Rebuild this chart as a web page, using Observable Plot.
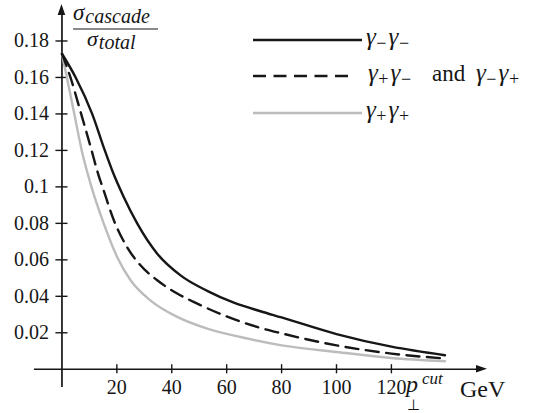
<!DOCTYPE html>
<html><head><meta charset="utf-8">
<script src="https://cdn.jsdelivr.net/npm/d3@7"></script>
<script src="https://cdn.jsdelivr.net/npm/@observablehq/plot@0.6"></script>
<style>
  html,body{margin:0;padding:0;background:#fff}
  #chart{width:535px;height:413px}
</style>
</head><body><div id="chart"></div>
<script>
// ---- data ----
// gamma- gamma- (solid black)
const mmX = [0, 5, 11, 15.6, 18.3, 22.5, 27.4, 34.7, 43.2, 52.9, 62.6, 72.3, 80, 100, 120, 139.5];
const mmY = [0.173, 0.16, 0.14, 0.12, 0.109, 0.0945, 0.08, 0.0634, 0.0515, 0.043, 0.0365, 0.0318, 0.0284, 0.0193, 0.0124, 0.0077];
// gamma+ gamma- and gamma- gamma+ (dashed black)
const pmX = [0, 3.1, 7, 10.8, 12.8, 15.2, 18.9, 23.7, 28.6, 34.7, 42, 49.3, 58.9, 71.1, 80, 100, 120, 139.5];
const pmY = [0.173, 0.16, 0.14, 0.12, 0.109, 0.098, 0.0817, 0.067, 0.057, 0.0488, 0.0415, 0.036, 0.0296, 0.0232, 0.0197, 0.0131, 0.0086, 0.0059];
// gamma+ gamma+ (solid grey)
const ppX = [0, 1.8, 4.5, 7.2, 10.4, 15.2, 20.1, 25, 32.2, 42, 52.9, 65, 80, 100, 120, 139.5];
const ppY = [0.173, 0.16, 0.14, 0.12, 0.1018, 0.08, 0.0616, 0.0488, 0.0378, 0.0287, 0.0223, 0.0177, 0.0131, 0.0095, 0.0062, 0.0044];

const xTicks = [20, 40, 60, 80, 100, 120];
const xTickLabels = ["20", "40", "60", "80", "100", "120"];
const yTicks = [0.02, 0.04, 0.06, 0.08, 0.1, 0.12, 0.14, 0.16, 0.18];
const yTickLabels = ["0.02", "0.04", "0.06", "0.08", "0.1", "0.12", "0.14", "0.16", "0.18"];
const xDomain = [-10, 155];
const yDomain = [-0.01, 0.2];

// ---- style ----
const SERIF = "'Liberation Serif', serif";
const INK = "#161616";
const GREY = "#bcbcbc";
const DASH = "13,7.5";
const LW = 2.4;

const chart = Plot.plot({
  width: 535, height: 413,
  marginLeft: 34, marginRight: 48, marginTop: 4, marginBottom: 26,
  x: {domain: xDomain, axis: null},
  y: {domain: yDomain, axis: null},
  style: {fontFamily: SERIF, color: INK, background: "#fff", overflow: "visible"},
  marks: [
    // axes
    Plot.ruleY([0], {x1: xDomain[0], x2: xDomain[1] - 3, stroke: INK, strokeWidth: 1.7}),
    Plot.ruleX([0], {y1: yDomain[0], y2: yDomain[1] - 0.004, stroke: INK, strokeWidth: 1.7}),
    // ticks
    Plot.ruleX(xTicks, {x: d => d, y1: -0.0025, y2: 0.0025, stroke: INK, strokeWidth: 1.4}),
    Plot.ruleY(yTicks, {y: d => d, x1: -2.2, x2: 2.2, stroke: INK, strokeWidth: 1.4}),
    Plot.text(xTicks, {x: d => d, y: 0, text: (d, i) => xTickLabels[i], dy: 18, fontSize: 20, fill: INK}),
    Plot.text(yTicks, {x: 0, y: d => d, text: (d, i) => yTickLabels[i], dx: -13, textAnchor: "end", fontSize: 20, fill: INK}),
    // curves
    Plot.line(ppX, {x: ppX, y: ppY, stroke: GREY, strokeWidth: LW, curve: "monotone-x"}),
    Plot.line(pmX, {x: pmX, y: pmY, stroke: INK, strokeWidth: LW, strokeDasharray: DASH, curve: "monotone-x"}),
    Plot.line(mmX, {x: mmX, y: mmY, stroke: INK, strokeWidth: LW, curve: "monotone-x"})
  ]
});
document.getElementById("chart").appendChild(chart);

const sx = chart.scale("x"), sy = chart.scale("y");
const svg = d3.select(chart);
const g = svg.append("g");

// arrow heads at the ends of the axes
const ax = sx.apply(xDomain[1]), ay = sy.apply(0);
g.append("path").attr("d", `M${ax},${ay}L${ax - 11},${ay - 3.8}L${ax - 11},${ay + 3.8}Z`).attr("fill", INK);
const bx = sx.apply(0), by = sy.apply(yDomain[1]);
g.append("path").attr("d", `M${bx},${by}L${bx - 3.8},${by + 11}L${bx + 3.8},${by + 11}Z`).attr("fill", INK);

function mathText(x, y, parts, anchor) {
  const t = g.append("text").attr("x", x).attr("y", y)
    .attr("text-anchor", anchor || "start").attr("font-family", SERIF).attr("fill", INK);
  let shift = 0;
  for (const p of parts) {
    const target = p.shift || 0;
    const ts = t.append("tspan").attr("font-size", p.size).text(p.t);
    if (target - shift) ts.attr("dy", target - shift);
    if (p.italic) ts.attr("font-style", "italic");
    if (p.dx) ts.attr("dx", p.dx);
    shift = target;
  }
  return t;
}
// y title: sigma_cascade / sigma_total
mathText(73, 20, [{t: "σ", size: 23, italic: true}, {t: "cascade", size: 20, italic: true, shift: 3, dx: 1}]);
g.append("line").attr("x1", 73).attr("x2", 158).attr("y1", 29).attr("y2", 29).attr("stroke", INK).attr("stroke-width", 1.2);
mathText(87, 46, [{t: "σ", size: 22, italic: true}, {t: "total", size: 20, italic: true, shift: 3, dx: 1}]);

// x title: p_perp^cut GeV
mathText(406, 392, [{t: "p", size: 24, italic: true}]);
mathText(422, 384, [{t: "cut", size: 17, italic: true}]);
mathText(407, 410, [{t: "⊥", size: 15}]);
mathText(460, 397, [{t: "GeV", size: 24}]);

// legend
const g1 = (a, b) => [
  {t: "γ", size: 25, italic: true}, {t: a, size: 18, shift: 4, dx: 0.5},
  {t: "γ", size: 25, italic: true, dx: 2}, {t: b, size: 18, shift: 4, dx: 0.5}];
const legendRows = [
  {y: 40, stroke: INK, dash: null, x2: 362, texts: [[366, g1("−", "−")]]},
  {y: 76, stroke: INK, dash: DASH, x2: 352, texts: [[368, g1("+", "−")], [432, [{t: "and", size: 23}]], [476, g1("−", "+")]]},
  {y: 113, stroke: GREY, dash: null, x2: 362, texts: [[366, g1("+", "+")]]}
];
for (const r of legendRows) {
  const l = g.append("line").attr("x1", 253).attr("x2", r.x2).attr("y1", r.y).attr("y2", r.y)
    .attr("stroke", r.stroke).attr("stroke-width", LW);
  if (r.dash) l.attr("stroke-dasharray", r.dash);
  for (const [x, parts] of r.texts) mathText(x, r.y + 5, parts);
}
</script>
</body></html>
